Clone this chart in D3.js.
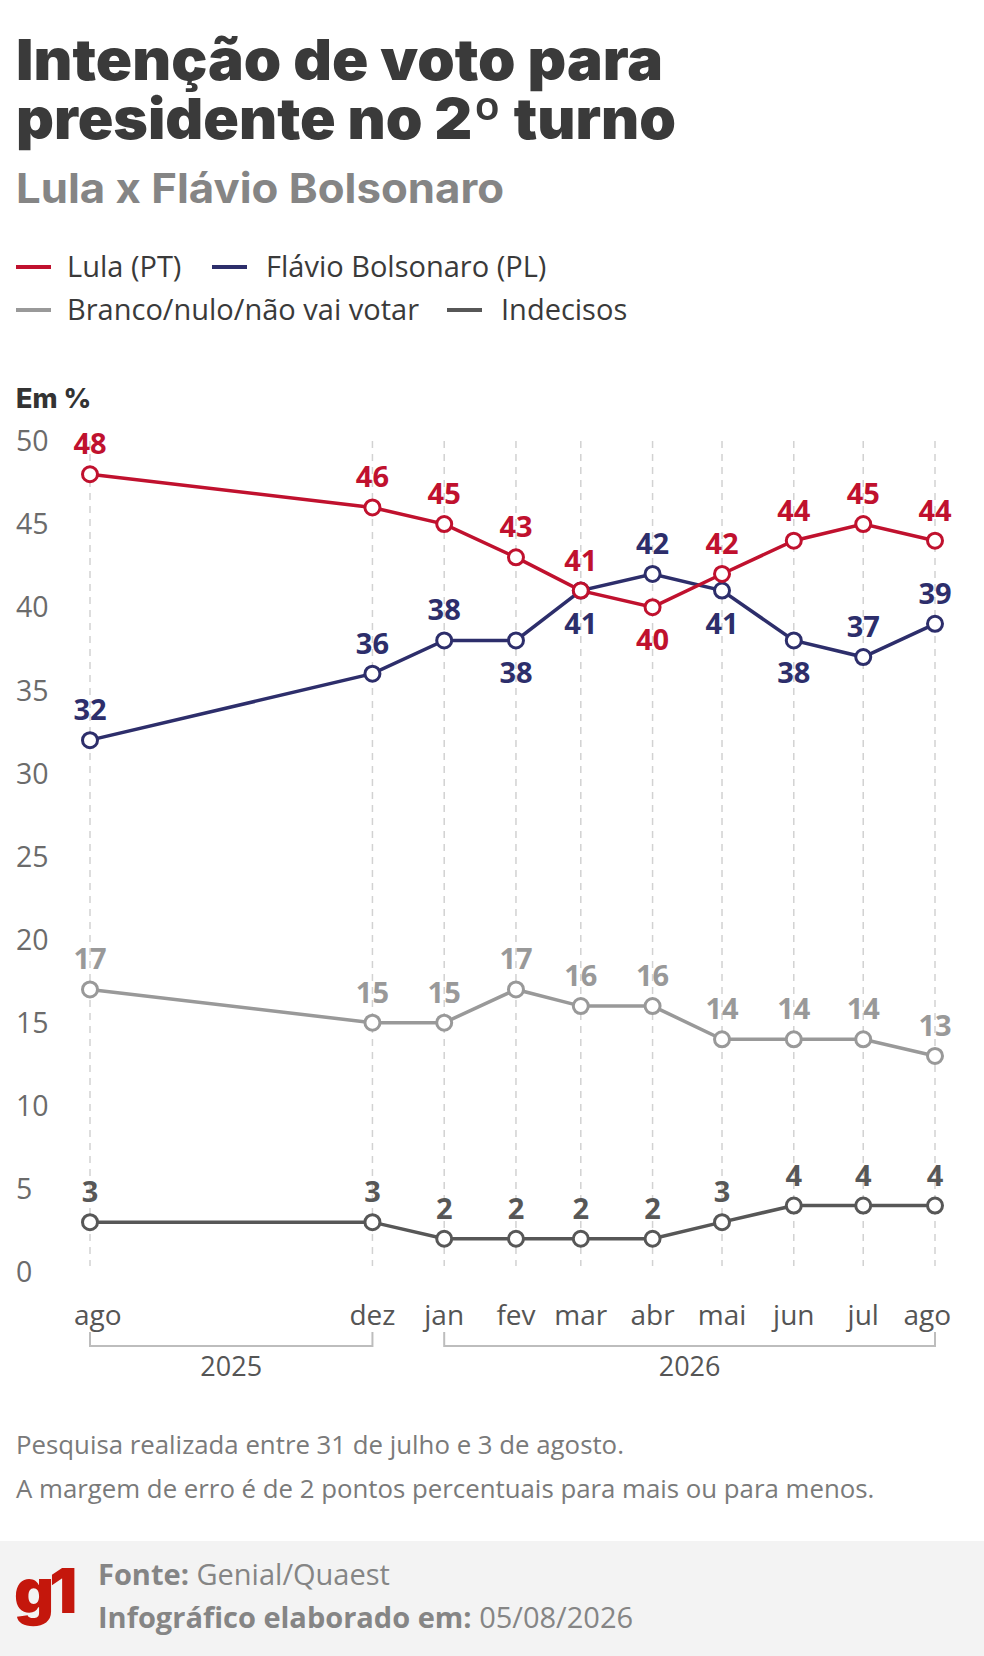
<!DOCTYPE html>
<html>
<head>
<meta charset="utf-8">
<script src="https://cdn.jsdelivr.net/npm/d3@7"></script>
<style>
  body { margin: 0; background: #fff; }
  svg text { font-family: "Open Sans", sans-serif; }
</style>
</head>
<body>
<svg width="984" height="1656"></svg>
<script>
const svg = d3.select('svg')

// survey months (first day used for position on a time scale)
const dates = ['2025-08-01', '2025-12-01', '2026-01-01', '2026-02-01', '2026-03-01',
  '2026-04-01', '2026-05-01', '2026-06-01', '2026-07-01', '2026-08-01']
const monthLabels = ['ago', 'dez', 'jan', 'fev', 'mar', 'abr', 'mai', 'jun', 'jul', 'ago']

const lula = [48, 46, 45, 43, 41, 40, 42, 44, 45, 44]
const flavio = [32, 36, 38, 38, 41, 42, 41, 38, 37, 39]
const branco = [17, 15, 15, 17, 16, 16, 14, 14, 14, 13]
const indecisos = [3, 3, 2, 2, 2, 2, 3, 4, 4, 4]

// label above (1) or below (-1) the point
const lulaPos = [1, 1, 1, 1, 1, -1, 1, 1, 1, 1]
const flavioPos = [1, 1, 1, -1, -1, 1, -1, -1, 1, 1]

const yTicks = [0, 5, 10, 15, 20, 25, 30, 35, 40, 45, 50]

const series = [
  { name: 'Branco/nulo/não vai votar', values: branco, color: '#999999', pos: null },
  { name: 'Indecisos', values: indecisos, color: '#575757', pos: null },
  { name: 'Flávio Bolsonaro (PL)', values: flavio, color: '#2d2e6b', pos: flavioPos },
  { name: 'Lula (PT)', values: lula, color: '#c0112e', pos: lulaPos }
]

const parse = d3.timeParse('%Y-%m-%d')
const x = d3.scaleTime()
  .domain([parse(dates[0]), parse(dates[dates.length - 1])])
  .range([90, 935])
const y = d3.scaleLinear().domain([0, 50]).range([1272, 441])

// titles
svg.append('text').attr('x', 16).attr('y', 80)
  .attr('font-size', 57).attr('font-weight', 900).attr('fill', '#3a3a3a')
  .attr('textLength', 647).attr('lengthAdjust', 'spacingAndGlyphs')
  .style('font-family', 'Inter').text('Intenção de voto para')
svg.append('text').attr('x', 16).attr('y', 139)
  .attr('font-size', 57).attr('font-weight', 900).attr('fill', '#3a3a3a')
  .attr('textLength', 660).attr('lengthAdjust', 'spacingAndGlyphs')
  .style('font-family', 'Inter').text('presidente no 2º turno')
svg.append('text').attr('x', 16).attr('y', 203)
  .attr('font-size', 41).attr('font-weight', 700).attr('fill', '#858585')
  .attr('textLength', 488).attr('lengthAdjust', 'spacingAndGlyphs')
  .style('font-family', 'Inter').text('Lula x Flávio Bolsonaro')

// legend
const legendItems = [
  { name: 'Lula (PT)', color: '#c0112e', x: 16, y: 267 },
  { name: 'Flávio Bolsonaro (PL)', color: '#2d2e6b', x: 212, y: 267 },
  { name: 'Branco/nulo/não vai votar', color: '#999999', x: 16, y: 310 },
  { name: 'Indecisos', color: '#575757', x: 447, y: 310 }
]
const legend = svg.append('g').selectAll('g').data(legendItems).enter().append('g')
  .attr('transform', d => `translate(${d.x},${d.y})`)
legend.append('line').attr('x1', 0).attr('x2', 35)
  .attr('stroke', d => d.color).attr('stroke-width', 4)
legend.append('text').attr('x', (d, i) => i % 2 ? 54 : 51).attr('dy', '0.36em')
  .attr('font-size', 29).attr('fill', '#3a3a3a').text(d => d.name)

svg.append('text').attr('x', 16).attr('y', 408)
  .attr('font-size', 27).attr('font-weight', 800).attr('fill', '#333')
  .style('font-family', 'Inter').text('Em %')

// y tick labels
svg.append('g').selectAll('text').data(yTicks).enter().append('text')
  .attr('x', 16).attr('y', d => y(d)).attr('dy', '0.36em')
  .attr('font-size', 28.5).attr('fill', '#6b6b6b').text(d => d)

// vertical dashed grid
svg.append('g').selectAll('line').data(dates).enter().append('line')
  .attr('x1', d => x(parse(d))).attr('x2', d => x(parse(d)))
  .attr('y1', y(50)).attr('y2', y(0) - 6)
  .attr('stroke', '#d2d2d2').attr('stroke-width', 1.5).attr('stroke-dasharray', '7,6')

// month labels, kept inside the chart edges
svg.append('g').selectAll('text').data(dates).enter().append('text')
  .attr('y', 1315).attr('dy', '0.36em')
  .attr('font-size', 28).attr('fill', '#555')
  .text((d, i) => monthLabels[i])
  .attr('x', function (d) {
    const w = this.getComputedTextLength()
    return Math.min(Math.max(x(parse(d)) - w / 2, 74), 951 - w)
  })

// year brackets
const years = [{ label: '2025', from: 0, to: 1 }, { label: '2026', from: 2, to: 9 }]
const yb = svg.append('g').selectAll('g').data(years).enter().append('g')
yb.append('path')
  .attr('d', d => {
    const a = x(parse(dates[d.from])), b = x(parse(dates[d.to]))
    return `M${a},1332V1346H${b}V1332`
  })
  .attr('fill', 'none').attr('stroke', '#bdbdbd').attr('stroke-width', 2)
yb.append('text')
  .attr('x', d => (x(parse(dates[d.from])) + x(parse(dates[d.to]))) / 2)
  .attr('y', 1366).attr('dy', '0.36em').attr('text-anchor', 'middle')
  .attr('font-size', 27).attr('fill', '#555').text(d => d.label)

// lines, points, labels
const line = d3.line().x((d, i) => x(parse(dates[i]))).y(d => y(d))
series.forEach(s => {
  const g = svg.append('g')
  g.append('path').datum(s.values).attr('d', line)
    .attr('fill', 'none').attr('stroke', s.color).attr('stroke-width', 3.5)
  g.selectAll('circle').data(s.values).enter().append('circle')
    .attr('cx', (d, i) => x(parse(dates[i]))).attr('cy', d => y(d)).attr('r', 7.5)
    .attr('fill', '#fff').attr('stroke', s.color).attr('stroke-width', 3)
  g.selectAll('text').data(s.values).enter().append('text')
    .attr('x', (d, i) => x(parse(dates[i])))
    .attr('y', (d, i) => {
      const p = s.pos ? s.pos[i] : 1
      return p > 0 ? y(d) - 20 : y(d) + 43
    })
    .attr('text-anchor', 'middle').attr('font-size', 29).attr('font-weight', 700)
    .attr('fill', s.color).text(d => d)
})

// notes
svg.append('text').attr('x', 16).attr('y', 1454)
  .attr('font-size', 25.8).attr('fill', '#7a7a7a')
  .text('Pesquisa realizada entre 31 de julho e 3 de agosto.')
svg.append('text').attr('x', 16).attr('y', 1498)
  .attr('font-size', 25.8).attr('fill', '#7a7a7a')
  .text('A margem de erro é de 2 pontos percentuais para mais ou para menos.')

// footer
svg.append('rect').attr('x', 0).attr('y', 1541).attr('width', 984).attr('height', 115)
  .attr('fill', '#f3f3f3')
svg.append('text').attr('x', 14).attr('y', 1613)
  .attr('font-size', 62).attr('font-weight', 900).attr('fill', '#c4170c')
  .attr('letter-spacing', -5).style('font-family', 'Inter').text('g1')
const f1 = svg.append('text').attr('x', 98).attr('y', 1585).attr('font-size', 29).attr('fill', '#858585')
f1.append('tspan').attr('font-weight', 700).text('Fonte: ')
f1.append('tspan').text('Genial/Quaest')
const f2 = svg.append('text').attr('x', 98).attr('y', 1628).attr('font-size', 29).attr('fill', '#858585')
f2.append('tspan').attr('font-weight', 700).text('Infográfico elaborado em: ')
f2.append('tspan').text('05/08/2026')
</script>
</body>
</html>
